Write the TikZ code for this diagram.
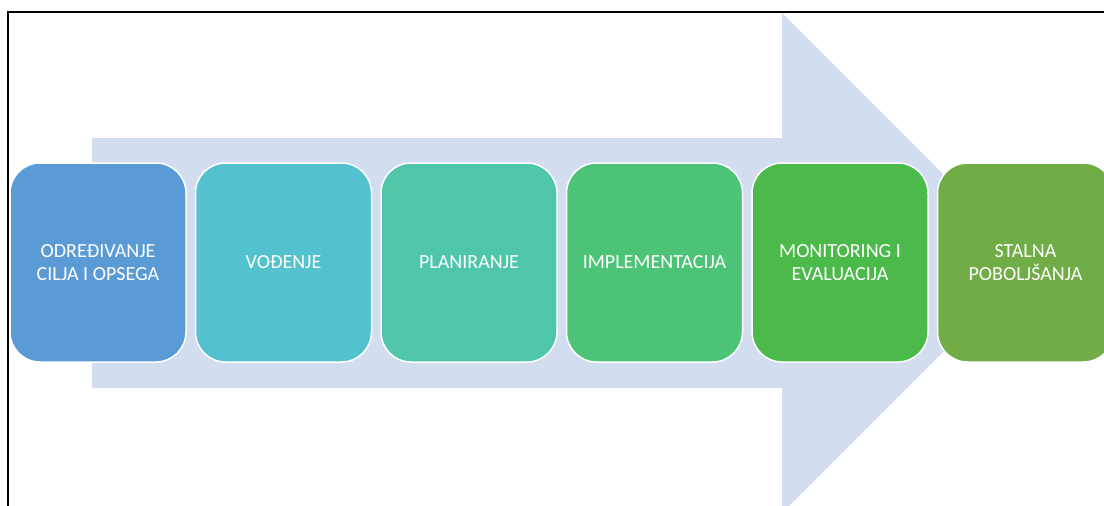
\documentclass[tikz,border=0pt]{standalone}
\usepackage{fontspec}
\setmainfont{Carlito}
\usepackage{tikz}
\definecolor{arrowblue}{RGB}{210,222,239}
\definecolor{stepa}{RGB}{91,155,213}
\definecolor{stepb}{RGB}{84,193,207}
\definecolor{stepc}{RGB}{80,198,168}
\definecolor{stepd}{RGB}{76,195,118}
\definecolor{stepe}{RGB}{75,186,74}
\definecolor{stepf}{RGB}{112,173,71}
\usetikzlibrary{positioning}

\begin{document}
\begin{tikzpicture}[x=1pt,y=-1pt,node distance=8pt,
    stepbox/.style={draw=white,line width=1.5pt,rounded corners=30pt,
        minimum width=176pt,minimum height=199pt,inner sep=0pt,
        text=white,align=center,font=\fontsize{20}{23}\selectfont}]

           \clip (0,0) rectangle (1104,506);
           \fill [white] (0,0) rectangle (1104,506);

           % frame
           \draw [black,line width=2pt] (1110,12) -- (8,12) -- (8,512);

           % big arrow
           \fill [arrowblue] (92,138) -- (782,138) -- (782,13) -- (1032,263)
                 -- (782,513) -- (782,388) -- (92,388) -- cycle;

           \node [stepbox,fill=stepa] (cilj) at (98,262.5) {ODREĐIVANJE\\CILJA I OPSEGA};
           \node [stepbox,fill=stepb,right=of cilj] (vodjenje) {VOĐENJE};
           \node [stepbox,fill=stepc,right=of vodjenje] (planiranje) {PLANIRANJE};
           \node [stepbox,fill=stepd,right=of planiranje] (implementacija) {IMPLEMENTACIJA};
           \node [stepbox,fill=stepe,right=of implementacija] (monitoring) {MONITORING I\\EVALUACIJA};
           \node [stepbox,fill=stepf,right=of monitoring] (poboljsanja) {STALNA\\POBOLJŠANJA};

\end{tikzpicture}
\end{document}
